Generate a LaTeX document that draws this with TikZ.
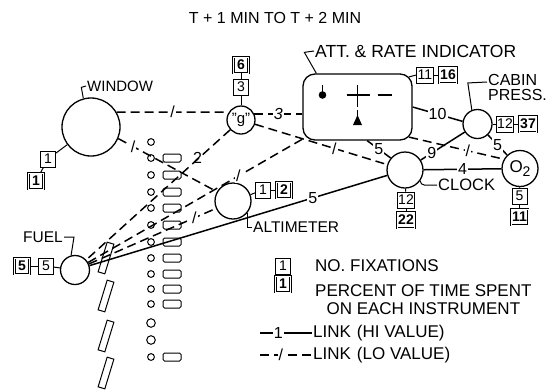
\documentclass[tikz,border=0pt]{standalone}
\usepackage{fontspec}
\setmainfont{Liberation Sans}
\usepackage{tikz}
\usetikzlibrary{positioning, calc}

\begin{document}
\begin{tikzpicture}[
    x=1pt, y=-1pt,
    inst/.style={circle, draw, line width=1.3pt, inner sep=0pt},
    fix/.style={rectangle, draw, line width=0.9pt, minimum width=15pt, minimum height=16pt, inner sep=1pt, font=\fontsize{14}{14}\selectfont},
    pct/.style={fix, double, double distance=0.8pt, line width=0.8pt, font=\fontsize{14}{14}\selectfont\bfseries},
    lbl/.style={inner sep=1pt, font=\fontsize{16}{15}\selectfont},
    num/.style={fill=white, inner sep=1pt, font=\fontsize{16}{16}\selectfont},
    hi/.style={line width=1.5pt},
    lo/.style={line width=1.5pt, dash pattern=on 9pt off 5pt},
    lead/.style={line width=1pt},
]
    \useasboundingbox (0,0) rectangle (551,389);

    % Title
    \node[lbl] (title) at (275,18) {T + 1 MIN TO T + 2 MIN};

    % Instruments
    \node[inst, minimum size=58pt] (win) at (91,127) {};
    \node[inst, minimum size=28pt, font=\fontsize{15}{15}\selectfont] (g) at (241,120) {"g"};
    \node[draw, line width=1.3pt, rounded corners=12pt, minimum width=109pt, minimum height=66pt] (att) at (357.5,107) {};
    \node[inst, minimum size=29pt] (cab) at (477.5,124) {};
    \node[inst, minimum size=36pt, font=\fontsize{17}{17}\selectfont] (o2) at (520,168.5) {O\raisebox{-0.4ex}{\fontsize{14}{14}\selectfont 2}};
    \node[inst, minimum size=36pt] (clk) at (405,170) {};
    \node[inst, minimum size=36pt] (alt) at (233,201) {};
    \node[inst, minimum size=29pt] (fuel) at (75,270) {};

    % Fixation and percent boxes
    \node[fix] (winA) at (48,159) {1};
    \node[pct] (winB) at (36,181) {1};
    \node[fix] (gA) at (241,87) {3};
    \node[pct] (gB) at (241,65) {6};
    \node[fix] (attA) at (425,75) {11};
    \node[pct] (attB) at (448,75) {16};
    \node[fix] (cabA) at (505,124) {12};
    \node[pct] (cabB) at (528,124) {37};
    \node[fix] (o2A) at (519.5,196) {5};
    \node[pct] (o2B) at (519.5,217) {11};
    \node[fix] (clkA) at (406,200) {12};
    \node[pct] (clkB) at (406,220) {22};
    \node[fix] (altA) at (263,190) {1};
    \node[pct] (altB) at (284,190) {2};
    \node[fix] (fuelA) at (46,266) {5};
    \node[pct] (fuelB) at (22,266) {5};

    % Instrument names
    \node[lbl, anchor=west, font=\fontsize{15}{15}\selectfont] (winlbl) at (86,86) {WINDOW};
    \node[lbl, anchor=west, font=\fontsize{17.5}{17}\selectfont] (attlbl) at (314,51) {ATT. \& RATE INDICATOR};
    \node[lbl, anchor=north west, align=left] (cablbl) at (487,73) {CABIN\\PRESS.};
    \node[lbl, anchor=west, font=\fontsize{16.5}{16}\selectfont] (clklbl) at (437,185) {CLOCK};
    \node[lbl, anchor=west, font=\fontsize{15.5}{15}\selectfont] (altlbl) at (252,227) {ALTIMETER};
    \node[lbl, font=\fontsize{15.5}{15}\selectfont] (fuellbl) at (43,237) {FUEL};

    % Attitude and rate indicator face
    \begin{scope}[shift={(att.center)}]
        \fill (-35,-12) circle (3.8);
        \draw[line width=1.2pt] (-35,-12) -- (-35,-22);
        \draw[line width=1.2pt] (-11,-12) -- (12,-12);
        \draw[line width=1.2pt] (0,-22) -- (0,0);
        \draw[line width=2.8pt] (20,-12) -- (34,-12);
        \draw[line width=1.2pt] (0,3) -- (0,9);
        \fill (-4.5,18) -- (4.5,18) -- (0,8) -- cycle;
    \end{scope}

    % Panel column
    \draw[line width=1pt] (151,142) circle (3.4);
    \foreach \yy in {158,175,192,208,225,242,258,274,289,304,357} {
        \draw[line width=1pt] (151,\yy) circle (3.4);
        \draw[line width=1pt, rounded corners=1.5pt] (163,\yy-4) rectangle (181,\yy+4);
    }
    \foreach \yy in {323,340}
        \draw[line width=1pt] (151,\yy) circle (4.3);
    \foreach \yy in {258,296,336,373}
        \draw[line width=1pt, rotate around={-17:(106,\yy)}] (102.5,\yy-15.5) rectangle (109.5,\yy+15.5);

    % Links
    \draw[lo] (win.30) -- (g.148) node[num, midway] {/};
    \draw[lo] (win.-23) -- (alt.150) node[num, pos=0.15] {/};
    \draw[lo] (g) -- (fuel) node[pos=0.27, anchor=south west, inner sep=1pt, font=\fontsize{16}{16}\selectfont] {2};
    \draw[lo] (g.25) -- (g.25 -| att.west) node[num, midway] {\itshape 3};
    \draw[lo] (g) -- (clk) node[num, pos=0.6] {/};
    \draw[lo] (fuel) -- ($(att.south west)+(3.5,-3.5)$) node[num, pos=0.69] {/};
    \draw[lo] (fuel) -- (alt) node[num, pos=0.83] {/};
    \draw[hi] (fuel) -- (clk) node[num, pos=0.75] {5};
    \draw[hi] (att.-74) -- (clk.140) node[num, midway] {5};
    \draw[hi] (att.east) -- (cab.170) node[num, midway] {10};
    \draw[lo] ($(att.south east)+(-3.5,-3.5)$) -- (o2.150) node[num, pos=0.62] {/};
    \draw[hi] (cab) -- (clk) node[num, pos=0.75] {9};
    \draw[hi] (cab) -- (o2) node[num, midway] {5};
    \draw[hi] (clk) -- (o2) node[num, midway] {4};

    % Box connectors
    \draw[lead] (win) -- (winA);
    \draw[lead] (winA) -- (winB);
    \draw[lead] (g) -- (gA);
    \draw[lead] (gA) -- (gB);
    \draw[lead] ($(att.north east)+(-3.5,3.5)$) -- (attA.west);
    \draw[lead] (attA) -- (attB);
    \draw[lead] (cab) -- (cabA);
    \draw[lead] (cabA) -- (cabB);
    \draw[lead] (o2) -- (o2A);
    \draw[lead] (o2A) -- (o2B);
    \draw[lead] (clk) -- (clkA);
    \draw[lead] (clkA) -- (clkB);
    \draw[lead] (alt) -- (altA);
    \draw[lead] (altA) -- (altB);
    \draw[lead] (fuel) -- (fuelA);
    \draw[lead] (fuelA) -- (fuelB);

    % Name leaders
    \draw[lead] (win.105) -- ++(-2,-11) -- (winlbl.west);
    \draw[lead] ($(att.north west)+(14,0)$) -- ++(-12,-21) -- (attlbl.west);
    \draw[lead] (cab.112) -- ++(-4,-27) -- ($(cablbl.north west)+(0,9)$);
    \draw[lead, rounded corners=4pt] (clk.-35) |- (clklbl.west);
    \draw[lead] (alt.-40) |- (altlbl.west);
    \draw[lead] (fuellbl.east) -- ++(10,0) -- (fuel.105);

    % Key
    \node[fix] (keyA) at (283,266) {1};
    \node[pct] (keyB) at (283,284) {1};
    \node[lbl, anchor=west, font=\fontsize{17}{17}\selectfont] (keyAtxt) at (314,266) {NO. FIXATIONS};
    \node[lbl, anchor=north west, align=center, font=\fontsize{17}{18}\selectfont] (keyBtxt) at (314,283) {PERCENT OF TIME SPENT\\ON EACH INSTRUMENT};
    \node[lbl, anchor=west, font=\fontsize{17}{17}\selectfont] (hitxt) at (312,333) {LINK\hspace{6pt}(HI VALUE)};
    \node[lbl, anchor=west, font=\fontsize{17}{17}\selectfont] (lotxt) at (312,355) {LINK\hspace{6pt}(LO VALUE)};
    \coordinate (hiStart) at (260,333);
    \coordinate (loStart) at (260,355);
    \draw[hi] (hiStart) -- (hitxt.west) node[num, pos=0.35] {1};
    \draw[lo] (loStart) -- (lotxt.west) node[num, pos=0.4] {/};
\end{tikzpicture}
\end{document}
